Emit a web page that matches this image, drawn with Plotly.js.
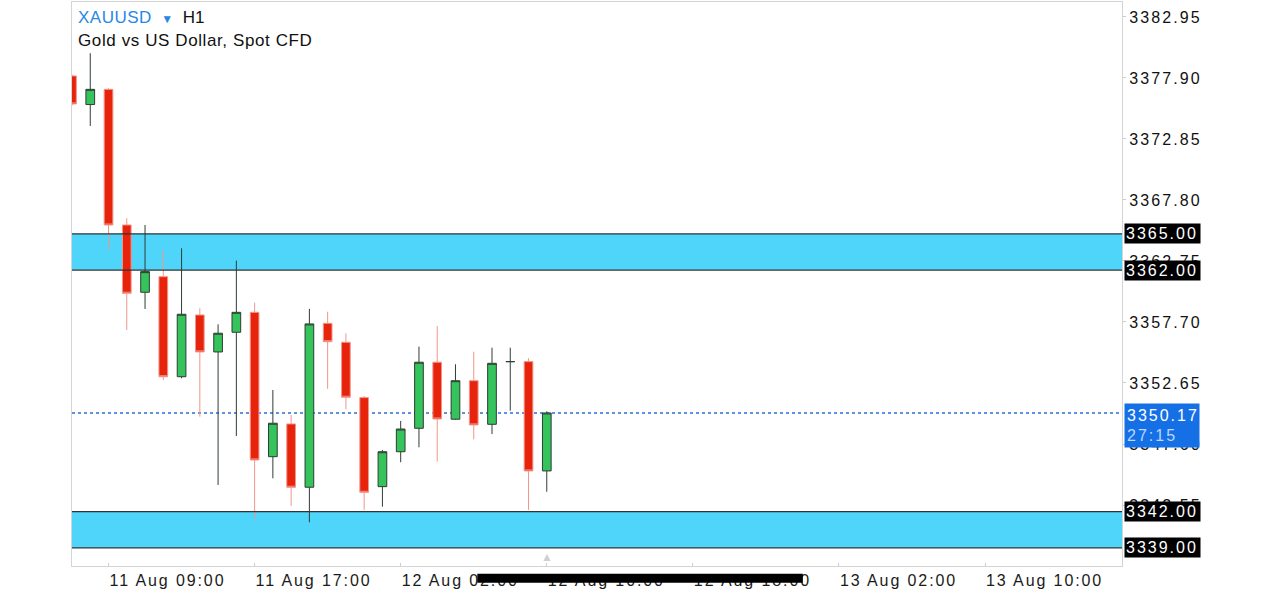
<!DOCTYPE html>
<html><head><meta charset="utf-8">
<script src="https://cdn.plot.ly/plotly-3.0.1.min.js"></script>
<style>
html,body{margin:0;padding:0;background:#fff;overflow:hidden;}
#chart{width:1280px;height:591px;}
#chart .ytick text {letter-spacing:2.1px;}
#chart .xtick text {letter-spacing:1.9px;}
</style></head><body><div id="chart"></div>
<script>
const candleTimes = ['11 Aug 07:00','11 Aug 08:00','11 Aug 09:00','11 Aug 10:00','11 Aug 11:00','11 Aug 12:00','11 Aug 13:00','11 Aug 14:00','11 Aug 15:00','11 Aug 16:00','11 Aug 17:00','11 Aug 18:00','11 Aug 19:00','11 Aug 20:00','11 Aug 21:00','11 Aug 22:00','11 Aug 23:00','12 Aug 01:00','12 Aug 02:00','12 Aug 03:00','12 Aug 04:00','12 Aug 05:00','12 Aug 06:00','12 Aug 07:00','12 Aug 08:00','12 Aug 09:00','12 Aug 10:00'];
const openP  = [3378.07,3375.70,3376.96,3365.73,3360.16,3361.45,3353.17,3358.28,3355.22,3356.85,3358.50,3346.55,3349.26,3344.02,3357.59,3356.02,3351.44,3344.07,3346.96,3348.90,3354.37,3349.65,3352.84,3349.23,3354.42,3354.42,3345.37];
const highP  = [3378.20,3379.95,3377.05,3366.29,3365.73,3363.66,3363.80,3358.84,3357.51,3362.78,3359.30,3352.07,3350.00,3358.78,3358.55,3356.77,3351.58,3347.11,3349.51,3355.66,3357.37,3354.20,3355.24,3355.57,3355.57,3354.70,3350.30];
const lowP   = [3375.60,3373.93,3363.72,3357.04,3358.78,3352.90,3353.04,3349.86,3344.21,3348.26,3341.37,3344.76,3342.47,3341.12,3352.16,3350.47,3342.14,3342.41,3346.09,3347.33,3346.14,3349.60,3347.99,3348.43,3350.36,3342.14,3343.65];
const closeP = [3375.75,3376.96,3365.73,3360.08,3361.87,3353.17,3358.34,3355.22,3356.77,3358.50,3346.28,3349.32,3344.02,3357.54,3356.07,3351.47,3343.60,3346.96,3348.84,3354.37,3349.67,3352.84,3349.18,3354.28,3354.42,3345.37,3350.17];

const tickLabels = ['11 Aug 09:00','11 Aug 17:00','12 Aug 02:00','12 Aug 10:00','12 Aug 18:00','13 Aug 02:00','13 Aug 10:00'];
const tickSlots  = [2,10,18,26,34,42,50];
const priceTicks = [3342.55,3347.60,3352.65,3357.70,3362.75,3367.80,3372.85,3377.90,3382.95];
const zoneLow  = [3362.00, 3339.00];
const zoneHigh = [3365.00, 3342.00];
const lastPrice = 3350.17;
const countdown = '27:15';
const symbol = 'XAUUSD';
const timeframe = 'H1';
const description = 'Gold vs US Dollar, Spot CFD';

const FONT = 'Liberation Sans, Arial, Helvetica, sans-serif';
const slots = candleTimes.map((t, i) => i);

const trace = {
  type: 'candlestick',
  x: slots, open: openP, high: highP, low: lowP, close: closeP,
  text: candleTimes, hoverinfo: 'none',
  whiskerwidth: 0,
  increasing: {fillcolor: '#35c35b', line: {color: '#2f3d34', width: 1}},
  decreasing: {fillcolor: '#e8230c', line: {color: '#f0968b', width: 1}},
  showlegend: false
};

const shapes = [];
zoneLow.forEach((lo, i) => {
  const hi = zoneHigh[i];
  shapes.push({type:'rect', xref:'paper', x0:0, x1:1, yref:'y', y0:lo, y1:hi, fillcolor:'#4fd5fa', line:{width:0}, layer:'below'});
  shapes.push({type:'line', xref:'paper', x0:0, x1:1, yref:'y', y0:hi, y1:hi, line:{color:'#333', width:1.2}, layer:'above'});
  shapes.push({type:'line', xref:'paper', x0:0, x1:1, yref:'y', y0:lo, y1:lo, line:{color:'#333', width:1.2}, layer:'above'});
});
shapes.push({type:'line', xref:'paper', x0:0, x1:1, yref:'y', y0:lastPrice, y1:lastPrice, line:{color:'#2a6fd6', width:1.5, dash:'dot'}, layer:'below'});
// phone home-indicator bar overlay
shapes.push({type:'line', xref:'paper', yref:'paper', x0:0.386, x1:0.696, y0:-0.0215, y1:-0.0215, line:{color:'#000', width:9}, layer:'above'});

const sp = (s, ls) => `<span style="letter-spacing:${ls}px">${s}</span>`;

const annotations = [
  {xref:'paper', yref:'paper', x:0, y:1, xanchor:'left', yanchor:'top', xshift:4, yshift:-4, showarrow:false, align:'left',
   text:`<span style="color:#2787e6;letter-spacing:0.5px">${symbol}</span>  <span style="color:#2787e6;font-size:12px">▼</span>  ${timeframe}`,
   font:{family:FONT, size:17, color:'#111'}},
  {xref:'paper', yref:'paper', x:0, y:1, xanchor:'left', yanchor:'top', xshift:4, yshift:-27, showarrow:false, align:'left',
   text: sp(description, 0.6), font:{family:FONT, size:17, color:'#111'}},
  {xref:'x', yref:'paper', x:slots[slots.length-1], y:0, xanchor:'center', yanchor:'bottom', showarrow:false,
   text:'▲', font:{family:FONT, size:12, color:'#cfcfcf'}}
];
[...zoneHigh, ...zoneLow].forEach(v => {
  annotations.push({xref:'paper', yref:'y', x:1, y:v, xanchor:'left', yanchor:'middle', xshift:2, showarrow:false,
    width:73, height:17, align:'left',
    text: sp(v.toFixed(2), 2), bgcolor:'#000', borderpad:1, font:{family:FONT, size:16, color:'#fff'}});
});
annotations.push({xref:'paper', yref:'y', x:1, y:lastPrice, xanchor:'left', yanchor:'top', xshift:2, yshift:10, showarrow:false,
  width:70, height:39, align:'left',
  text:`${sp(lastPrice.toFixed(2), 2)}<br><span style="color:#bcd6ff;letter-spacing:2px">${countdown}</span>`, bgcolor:'#1570e6', borderpad:2,
  font:{family:FONT, size:16, color:'#fff'}});

const layout = {
  width:1280, height:591,
  margin:{l:72, r:158, t:2, b:25, pad:0},
  paper_bgcolor:'#fff', plot_bgcolor:'#fff',
  boxgap:0.32,
  font:{family:FONT, size:16, color:'#111'},
  xaxis:{range:[0.0, 57.5], tickvals:tickSlots, ticktext:tickLabels, ticks:'inside', ticklen:3, tickcolor:'#cccccc',
         ticklabelposition:'outside right',
         showline:true, mirror:true, linecolor:'#d4d4d4', linewidth:1, showgrid:false, zeroline:false,
         rangeslider:{visible:false}, tickfont:{family:FONT, size:16, color:'#1a1a1a'}, fixedrange:true},
  yaxis:{side:'right', range:[3337.5, 3384.19], tickvals:priceTicks, tickformat:'.2f', ticks:'outside', ticklen:3, tickcolor:'#cccccc',
         showline:true, mirror:true, linecolor:'#d4d4d4', linewidth:1, showgrid:false, zeroline:false,
         tickfont:{family:FONT, size:16, color:'#111'}, fixedrange:true},
  shapes, annotations,
  hovermode:false, showlegend:false
};

Plotly.newPlot('chart', [trace], layout, {displayModeBar:false, staticPlot:true});
</script></body></html>
